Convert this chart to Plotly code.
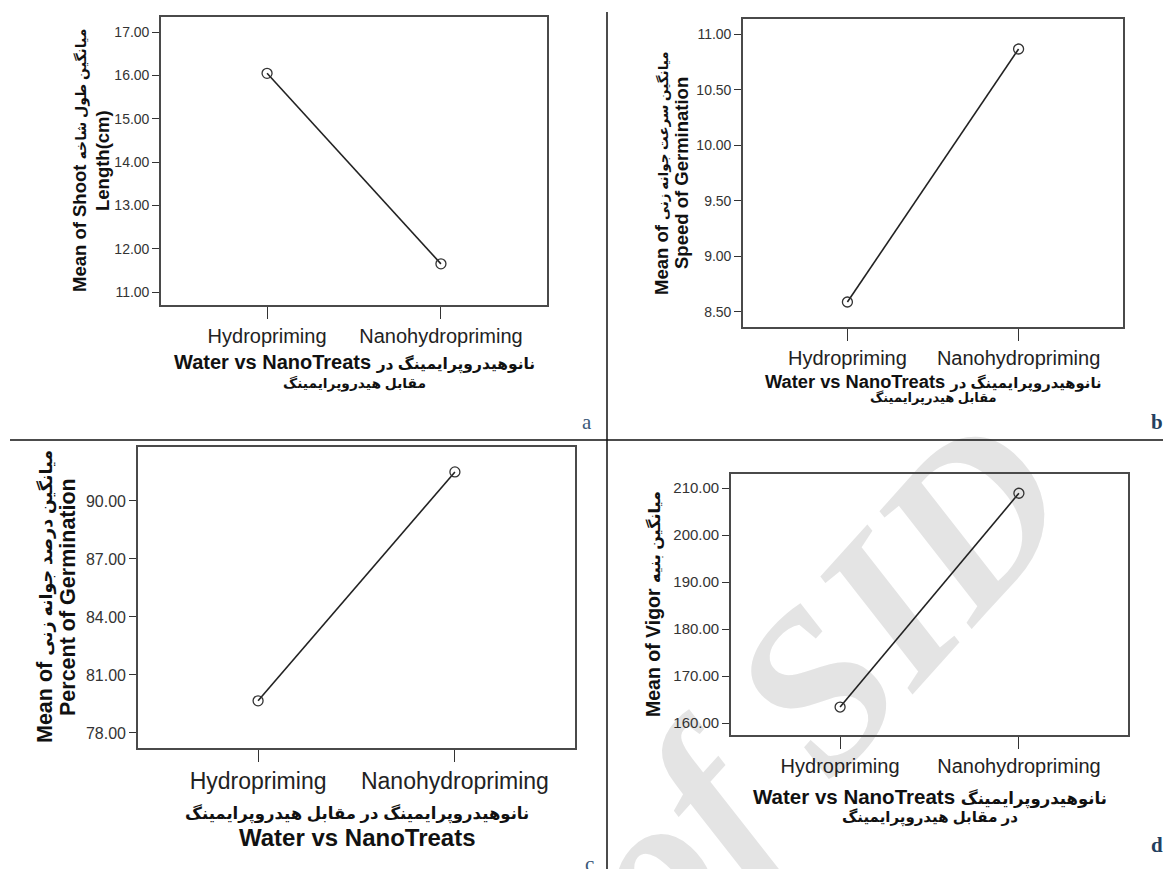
import plotly.graph_objects as go

# page body has an 8px margin: figure sized so that it ends at the window edge
OX, OY = 8, 8
W, H = 1171 - OX, 869 - OY

categories = ["Hydropriming", "Nanohydropriming"]
shoot_length = [16.05, 11.65]
speed_germination = [8.59, 10.865]
percent_germination = [79.66, 91.5]
vigor = [163.4, 208.9]

FA = '<span style="font-size:%spx">%s</span>'

ytitle_a = ["Mean of Shoot " + FA % (14, "میانگین طول شاخه"), "Length(cm)"]
ytitle_b = ["Mean of " + FA % (13.5, "میانگین سرعت جوانه زنی"), "Speed of Germination"]
ytitle_c = ["Mean of " + FA % (17.5, "میانگین درصد جوانه زنی"), "Percent of Germination"]
ytitle_d = ["Mean of Vigor " + FA % (16, "میانگین بنیه")]
xtitle_a = ["Water vs NanoTreats " + FA % (15.5, "نانوهیدروپرایمینگ در"), "مقابل هیدروپرایمینگ"]
xtitle_b = ["Water vs NanoTreats " + FA % (14.8, "نانوهیدروپرایمینگ در"), "مقابل هیدرپرایمینگ"]
xtitle_c = ["نانوهیدروپرایمینگ در مقابل هیدروپرایمینگ", "Water vs NanoTreats"]
xtitle_d = ["Water vs NanoTreats " + FA % (16.5, "نانوهیدروپرایمینگ"), "در مقابل هیدروپرایمینگ"]
panel_letters = ["a", "b", "c", "d"]
watermark = "of SID"


def px(x):
    return (x - OX) / W


def py(y):
    return 1 - (y - OY) / H


FONT = "Arial, Liberation Sans, DejaVu Sans, sans-serif"

fig = go.Figure()
series = [shoot_length, speed_germination, percent_germination, vigor]
for i, vals in enumerate(series):
    suffix = "" if i == 0 else str(i + 1)
    fig.add_trace(go.Scatter(
        x=categories, y=vals, mode="lines+markers",
        xaxis="x" + suffix, yaxis="y" + suffix,
        line=dict(color="#222222", width=1.6),
        marker=dict(symbol="circle-open", size=10, color="#333333",
                    line=dict(width=1.3)),
        showlegend=False, hoverinfo="skip",
    ))

panels = [
    dict(box=(161, 547, 17, 305), yr=[10.7, 17.35], dt=1, t0=11, yf=14, xf=20),
    dict(box=(743, 1123, 19, 327), yr=[8.365, 11.135], dt=0.5, t0=8.5, yf=14, xf=20),
    dict(box=(138, 575, 447, 748), yr=[77.22, 92.79], dt=3, t0=78, yf=16, xf=23),
    dict(box=(731, 1128, 474, 735), yr=[157.45, 213.0], dt=10, t0=160, yf=15, xf=20),
]

layout = dict(
    width=W, height=H, margin=dict(l=0, r=0, t=0, b=0),
    paper_bgcolor="white", plot_bgcolor="rgba(0,0,0,0)",
    font=dict(family=FONT, color="#222222"),
)
for i, p in enumerate(panels):
    suffix = "" if i == 0 else str(i + 1)
    l, r, t, b = p["box"]
    layout["xaxis" + suffix] = dict(
        domain=[px(l), px(r)], anchor="y" + suffix, type="category",
        range=[-0.61, 1.61], showline=True, mirror=True, linecolor="#4a4a4a",
        linewidth=1.6, ticks="outside", ticklen=12, tickwidth=1.4,
        tickcolor="#333333", showgrid=False, zeroline=False,
        tickfont=dict(size=p["xf"], color="#222222", family=FONT),
    )
    layout["yaxis" + suffix] = dict(
        domain=[py(b), py(t)], anchor="x" + suffix, range=p["yr"],
        tick0=p["t0"], dtick=p["dt"], tickformat=".2f",
        showline=True, mirror=True, linecolor="#4a4a4a", linewidth=1.6,
        ticks="outside", ticklen=7, tickwidth=1.4, tickcolor="#333333",
        showgrid=False, zeroline=False,
        tickfont=dict(size=p["yf"], color="#333333", family=FONT),
    )
fig.update_layout(**layout)

ann = []


def add_text(text, x, y, size, angle=0, bold=True, color="#111111", family=FONT):
    ann.append(dict(
        text=("<b>%s</b>" % text) if bold else text,
        xref="paper", yref="paper", x=px(x), y=py(y),
        xanchor="center", yanchor="middle", showarrow=False,
        textangle=angle, font=dict(size=size, color=color, family=family),
    ))


# y-axis titles (rotated)
add_text(ytitle_a[0], 80, 161, 18.5, -90)
add_text(ytitle_a[1], 103, 161, 18.5, -90)
add_text(ytitle_b[0], 662, 173, 18.5, -90)
add_text(ytitle_b[1], 682, 173, 18.5, -90)
add_text(ytitle_c[0], 45, 597, 21.5, -90)
add_text(ytitle_c[1], 68, 597, 21.5, -90)
add_text(ytitle_d[0], 653, 604, 19.5, -90)

# x-axis titles
add_text(xtitle_a[0], 354, 363, 20)
add_text(xtitle_a[1], 354, 383, 13.8)
add_text(xtitle_b[0], 933, 381, 18.3)
add_text(xtitle_b[1], 933, 397, 13)
add_text(xtitle_c[0], 357, 813, 16.5)
add_text(xtitle_c[1], 357, 837, 24)
add_text(xtitle_d[0], 930, 797, 20.5)
add_text(xtitle_d[1], 930, 817, 15)

# panel letters
SERIF = "Liberation Serif, DejaVu Serif, serif"
add_text(panel_letters[0], 587, 422, 21, bold=False, color="#3b5878", family=SERIF)
add_text(panel_letters[1], 1157, 422, 21, bold=True, color="#23405f", family=SERIF)
add_text(panel_letters[2], 589, 864, 21, bold=False, color="#3b5878", family=SERIF)
add_text(panel_letters[3], 1157, 845, 21, bold=True, color="#23405f", family=SERIF)

fig.update_layout(annotations=ann)

shapes = [
    dict(type="line", xref="paper", yref="paper", x0=px(607), x1=px(607),
         y0=py(12), y1=py(869), line=dict(color="#111111", width=1.5)),
    dict(type="line", xref="paper", yref="paper", x0=px(10), x1=px(1170),
         y0=py(440), y1=py(440), line=dict(color="#111111", width=1.5)),
    dict(type="rect", xref="paper", yref="paper", layer="below",
         x0=px(700), x1=px(900), y0=py(740), y1=py(600),
         line=dict(width=0), fillcolor="rgba(0,0,0,0)",
         label=dict(text="<b><i>%s</i></b>" % watermark, textangle=-48,
                    textposition="middle center",
                    font=dict(size=225, color="#e4e4e4", family=SERIF))),
]
fig.update_layout(shapes=shapes)

fig.write_html("out.html")
